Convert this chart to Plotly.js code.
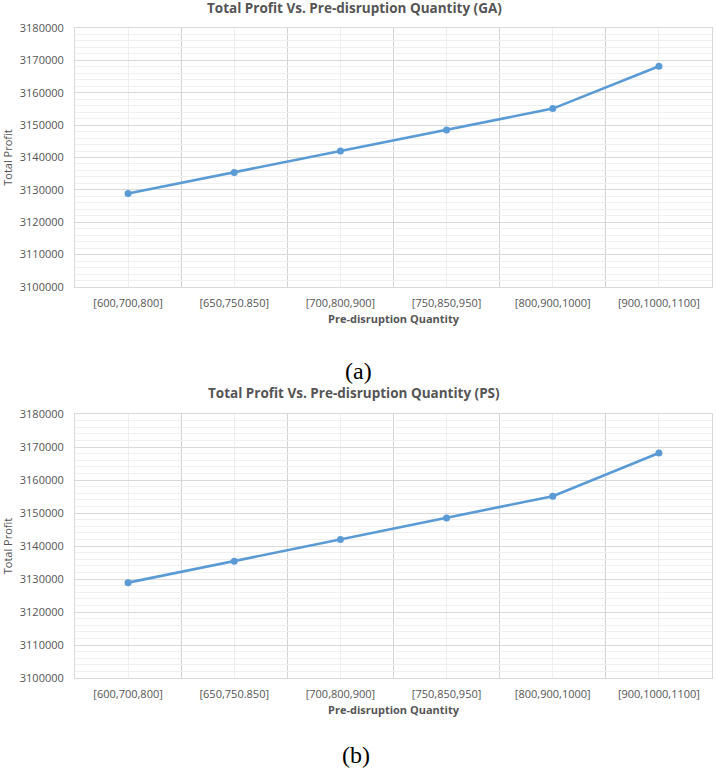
<!DOCTYPE html>
<html>
<head>
<meta charset="utf-8">
<script src="https://cdn.plot.ly/plotly-3.0.1.min.js"></script>
<style>
  body { margin: 0; background: #fff; }
  #chart { width: 717px; height: 771px; }
</style>
</head>
<body>
<div id="chart"></div>
<script>
// data
const categories = ["[600,700,800]", "[650,750.850]", "[700,800,900]", "[750,850,950]", "[800,900,1000]", "[900,1000,1100]"];
const profitGA = [3128900, 3135400, 3142000, 3148500, 3155100, 3168200];
const profitPS = [3128900, 3135400, 3142000, 3148500, 3155100, 3168200];
const titleGA = "Total Profit Vs. Pre-disruption Quantity (GA)";
const titlePS = "Total Profit Vs. Pre-disruption Quantity (PS)";

const W = 717, H = 771;
const px = v => v / W;          // pixel x -> paper
const py = v => 1 - v / H;      // pixel y -> paper

const idx = categories.map((c, i) => i);
const grey = "#555555";
const font = "Open Sans, Noto Sans, sans-serif";

function line(ys, xa, ya) {
  return {
    x: idx, y: ys, xaxis: xa, yaxis: ya,
    type: "scatter", mode: "lines+markers",
    line: { color: "#5b9bd5", width: 2.6 },
    marker: { color: "#5b9bd5", size: 7 },
    hoverinfo: "y", showlegend: false
  };
}

function xAxis(anchor) {
  return {
    anchor: anchor,
    domain: [px(75), px(712)],
    range: [-0.5, categories.length - 0.5],
    tickmode: "array", tickvals: idx, ticktext: categories,
    showgrid: true, gridcolor: "#eeeeee", gridwidth: 1,
    minor: { tickmode: "linear", tick0: 0.5, dtick: 1, showgrid: true, gridcolor: "#d4d4d4", gridwidth: 1, ticks: "" },
    showline: true, mirror: true, linecolor: "#d9d9d9", linewidth: 1,
    zeroline: false, ticks: "", ticklabelstandoff: 6,
    tickfont: { family: font, size: 11, color: grey },
    title: { text: "<b>Pre-disruption Quantity</b>", font: { family: font, size: 11, color: grey }, standoff: 6 },
    fixedrange: true
  };
}

function yAxis(anchor, top, bottom) {
  return {
    anchor: anchor,
    domain: [py(bottom), py(top)],
    range: [3100000, 3180000],
    tickmode: "linear", tick0: 3100000, dtick: 10000, tickformat: "d",
    showgrid: true, gridcolor: "#d9d9d9", gridwidth: 1,
    minor: { tickmode: "linear", dtick: 2000, showgrid: true, gridcolor: "#f0f0f0", gridwidth: 1, ticks: "" },
    showline: true, mirror: true, linecolor: "#d9d9d9", linewidth: 1,
    zeroline: false, ticks: "", ticklabelstandoff: 8,
    tickfont: { family: font, size: 11, color: grey },
    title: { text: "Total Profit", font: { family: font, size: 11, color: grey }, standoff: 4 },
    fixedrange: true
  };
}

const data = [line(profitGA, "x", "y"), line(profitPS, "x2", "y2")];

const layout = {
  width: W, height: H,
  margin: { l: 0, r: 0, t: 0, b: 0, pad: 0 },
  paper_bgcolor: "#ffffff", plot_bgcolor: "#ffffff",
  xaxis: xAxis("y"),
  yaxis: yAxis("x", 28, 287),
  xaxis2: xAxis("y2"),
  yaxis2: yAxis("x2", 414, 678),
  annotations: [
    { text: "<b>" + titleGA + "</b>", xref: "paper", yref: "paper", x: px(354), y: py(8), xanchor: "center", yanchor: "middle", showarrow: false, font: { family: font, size: 13.5, color: grey } },
    { text: "<b>" + titlePS + "</b>", xref: "paper", yref: "paper", x: px(354), y: py(393), xanchor: "center", yanchor: "middle", showarrow: false, font: { family: font, size: 13.5, color: grey } },
    { text: "(a)", xref: "paper", yref: "paper", x: px(358), y: py(371), xanchor: "center", yanchor: "middle", showarrow: false, font: { family: "Liberation Serif, serif", size: 24, color: "#000" } },
    { text: "(b)", xref: "paper", yref: "paper", x: px(356), y: py(755), xanchor: "center", yanchor: "middle", showarrow: false, font: { family: "Liberation Serif, serif", size: 24, color: "#000" } }
  ]
};

Plotly.newPlot("chart", data, layout, { displayModeBar: false, staticPlot: true });
</script>
</body>
</html>
